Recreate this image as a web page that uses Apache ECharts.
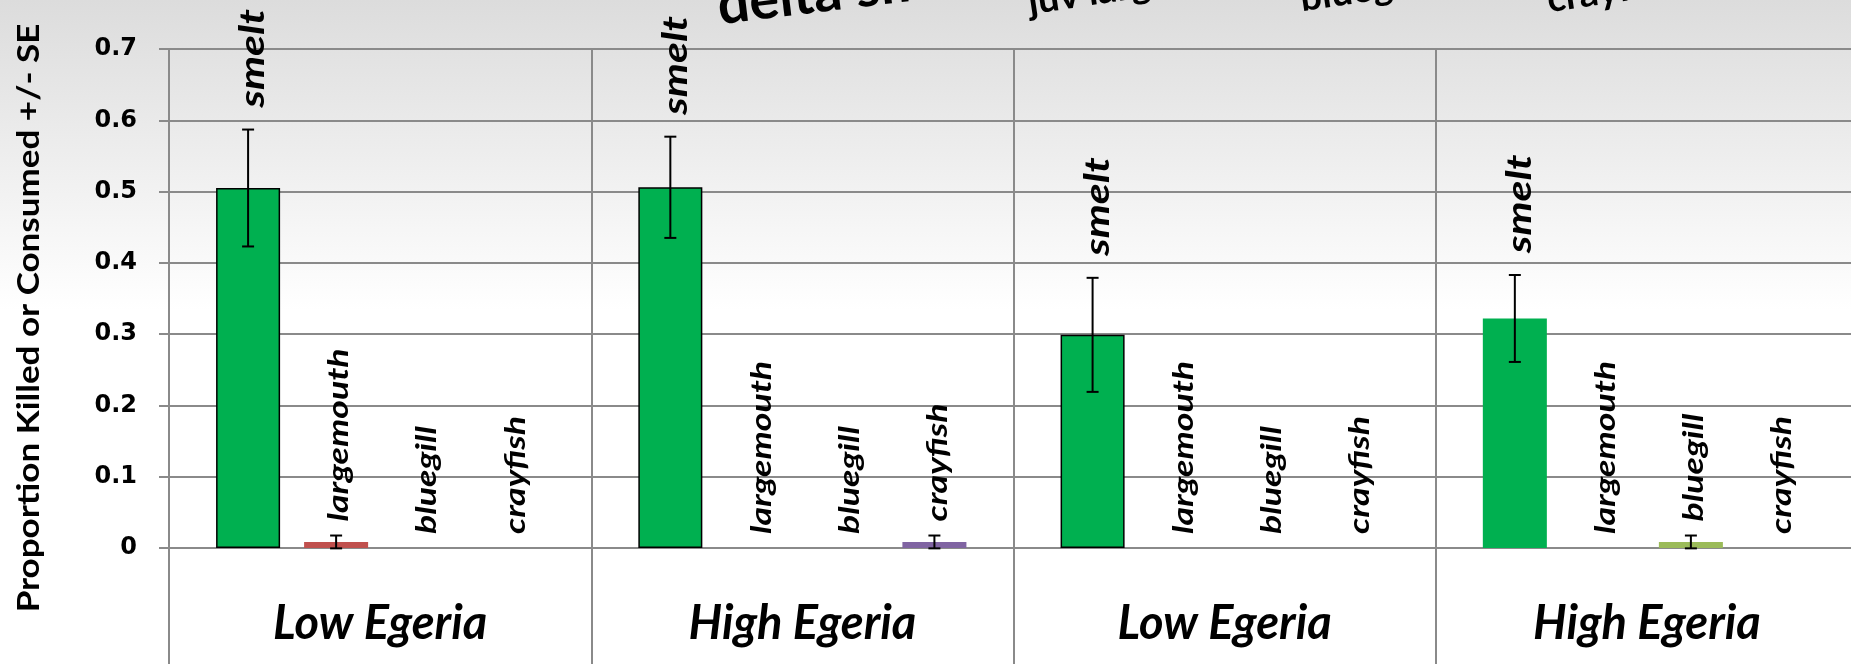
<!DOCTYPE html>
<html>
<head>
<meta charset="utf-8">
<script src="https://cdn.jsdelivr.net/npm/echarts@6/dist/echarts.min.js"></script>
<style>
  html, body { margin: 0; padding: 0; }
  body { background: linear-gradient(to bottom, #dcdcdc 0px, #ffffff 310px); }
  #chart { width: 1851px; height: 664px; }
</style>
</head>
<body>
<div id="chart"></div>
<script>
// treatment groups along the x axis
var groups = ['Low Egeria', 'High Egeria', 'Low Egeria', 'High Egeria'];
var fish = ['smelt', 'largemouth', 'bluegill', 'crayfish'];

// proportion killed or consumed, and its SE, per group
var smeltMean = [0.505, 0.506, 0.299, 0.322];
var smeltSE = [0.082, 0.071, 0.080, 0.061];
var largemouthMean = [0.0085, 0, 0, 0];
var largemouthSE = [0.009, 0, 0, 0];
var bluegillMean = [0, 0, 0, 0.0085];
var bluegillSE = [0, 0, 0, 0.009];
var crayfishMean = [0, 0.0085, 0, 0];
var crayfishSE = [0, 0.009, 0, 0];

var yTicks = [0, 0.1, 0.2, 0.3, 0.4, 0.5, 0.6, 0.7];
var legendWords = ['delta smelt', 'juv largemouth', 'bluegill', 'crayfish'];

var fishColors = ['#00B050', '#C0504D', '#9BBB59', '#8064A2'];
var means = [smeltMean, largemouthMean, bluegillMean, crayfishMean];
var ses = [smeltSE, largemouthSE, bluegillSE, crayfishSE];

var GRID_GRAY = '#8a8a8a';
var CAT_GAP = 0.223;
var BAR_GAP = 0.375;
var STRETCH = 1.23;

var chart = echarts.init(document.getElementById('chart'));

function barSeries(k) {
  return {
    type: 'bar',
    name: fish[k],
    barGap: (BAR_GAP * 100) + '%',
    barCategoryGap: (CAT_GAP * 100) + '%',
    z: 2,
    data: means[k].map(function (v, i) {
      var outlined = (k === 0 && i < 3);
      return {
        value: v,
        itemStyle: {
          color: fishColors[k],
          borderColor: '#000',
          borderWidth: outlined ? 1.5 : 0
        }
      };
    })
  };
}

// error bars plus the rotated fish name above each slot
function markSeries(k) {
  var fontSize = k === 0 ? 35 : 29;
  return {
    type: 'custom',
    name: fish[k] + ' marks',
    z: 5,
    clip: false,
    data: means[k].map(function (v, i) { return [i, v, ses[k][i]]; }),
    renderItem: function (params, api) {
      var cat = api.value(0);
      var m = api.value(1);
      var se = api.value(2);
      var catW = api.size([1, 0])[0];
      var barW = catW * (1 - CAT_GAP) / (4 + 3 * BAR_GAP);
      var cx = api.coord([cat, 0])[0] + (k - 1.5) * barW * (1 + BAR_GAP);
      var yTop = api.coord([cat, m + se])[1];
      var children = [];
      if (se > 0) {
        var yLow = api.coord([cat, m - se])[1];
        var ls = { stroke: '#000', lineWidth: 2 };
        children.push({ type: 'line', shape: { x1: cx, y1: yTop, x2: cx, y2: yLow }, style: ls });
        children.push({ type: 'line', shape: { x1: cx - 6, y1: yTop, x2: cx + 6, y2: yTop }, style: ls });
        children.push({ type: 'line', shape: { x1: cx - 6, y1: yLow, x2: cx + 6, y2: yLow }, style: ls });
      }
      var gap = k === 0 ? 22 : 14;
      children.push({
        type: 'text',
        x: cx + (k === 0 ? 5 : 3),
        y: yTop - gap,
        rotation: Math.PI / 2,
        scaleX: STRETCH,
        style: {
          text: fish[k],
          font: 'italic bold ' + fontSize + 'px Lato',
          fill: '#000',
          align: 'left',
          verticalAlign: 'middle'
        }
      });
      return { type: 'group', children: children };
    }
  };
}

var series = [];
for (var k = 0; k < fish.length; k++) series.push(barSeries(k));
for (var k2 = 0; k2 < fish.length; k2++) series.push(markSeries(k2));

// tilted words running off the top edge
var legendPos = [[721, 34, 56, 0.12], [1031, 21, 38, 0.15], [1303, 18, 38, 0.15], [1550, 19, 38, 0.15]];
var graphics = legendWords.map(function (w, i) {
  return {
    type: 'text',
    x: legendPos[i][0],
    y: legendPos[i][1],
    rotation: legendPos[i][3],
    style: { text: w, font: 'bold ' + legendPos[i][2] + 'px Lato', fill: '#000', align: 'left', verticalAlign: 'bottom' }
  };
});
graphics.push({
  type: 'text',
  x: 29,
  y: 318,
  rotation: Math.PI / 2,
  scaleX: 1.167,
  style: {
    text: 'Proportion Killed or Consumed +/- SE',
    font: 'bold 30px Lato',
    fill: '#000',
    align: 'center',
    verticalAlign: 'middle'
  }
});

var option = {
  animation: false,
  backgroundColor: 'transparent',
  grid: { left: 169, top: 49, width: 1689, height: 499, outerBoundsMode: 'none', containLabel: false },
  xAxis: {
    type: 'category',
    data: groups,
    axisLine: { show: true, lineStyle: { color: GRID_GRAY, width: 2 } },
    axisTick: { show: true, alignWithLabel: false, interval: 0, length: 116, lineStyle: { color: GRID_GRAY, width: 2 } },
    splitLine: { show: true, interval: 0, lineStyle: { color: GRID_GRAY, width: 2 } },
    axisLabel: {
      interval: 0,
      margin: 52,
      fontFamily: 'Lato',
      fontStyle: 'italic',
      fontWeight: 'bold',
      fontSize: 47,
      color: '#000'
    }
  },
  yAxis: {
    type: 'value',
    min: yTicks[0],
    max: yTicks[yTicks.length - 1],
    interval: 0.1,
    axisLine: { show: true, lineStyle: { color: GRID_GRAY, width: 2 } },
    axisTick: { show: true, length: 10, lineStyle: { color: GRID_GRAY, width: 2 } },
    splitLine: { show: true, lineStyle: { color: GRID_GRAY, width: 2 } },
    axisLabel: {
      margin: 32,
      fontFamily: 'DejaVu Sans',
      fontWeight: 'bold',
      fontSize: 24,
      color: '#000',
      formatter: function (v) { return String(Math.round(v * 10) / 10); }
    }
  },
  graphic: graphics,
  series: series
};

chart.setOption(option);
</script>
</body>
</html>
